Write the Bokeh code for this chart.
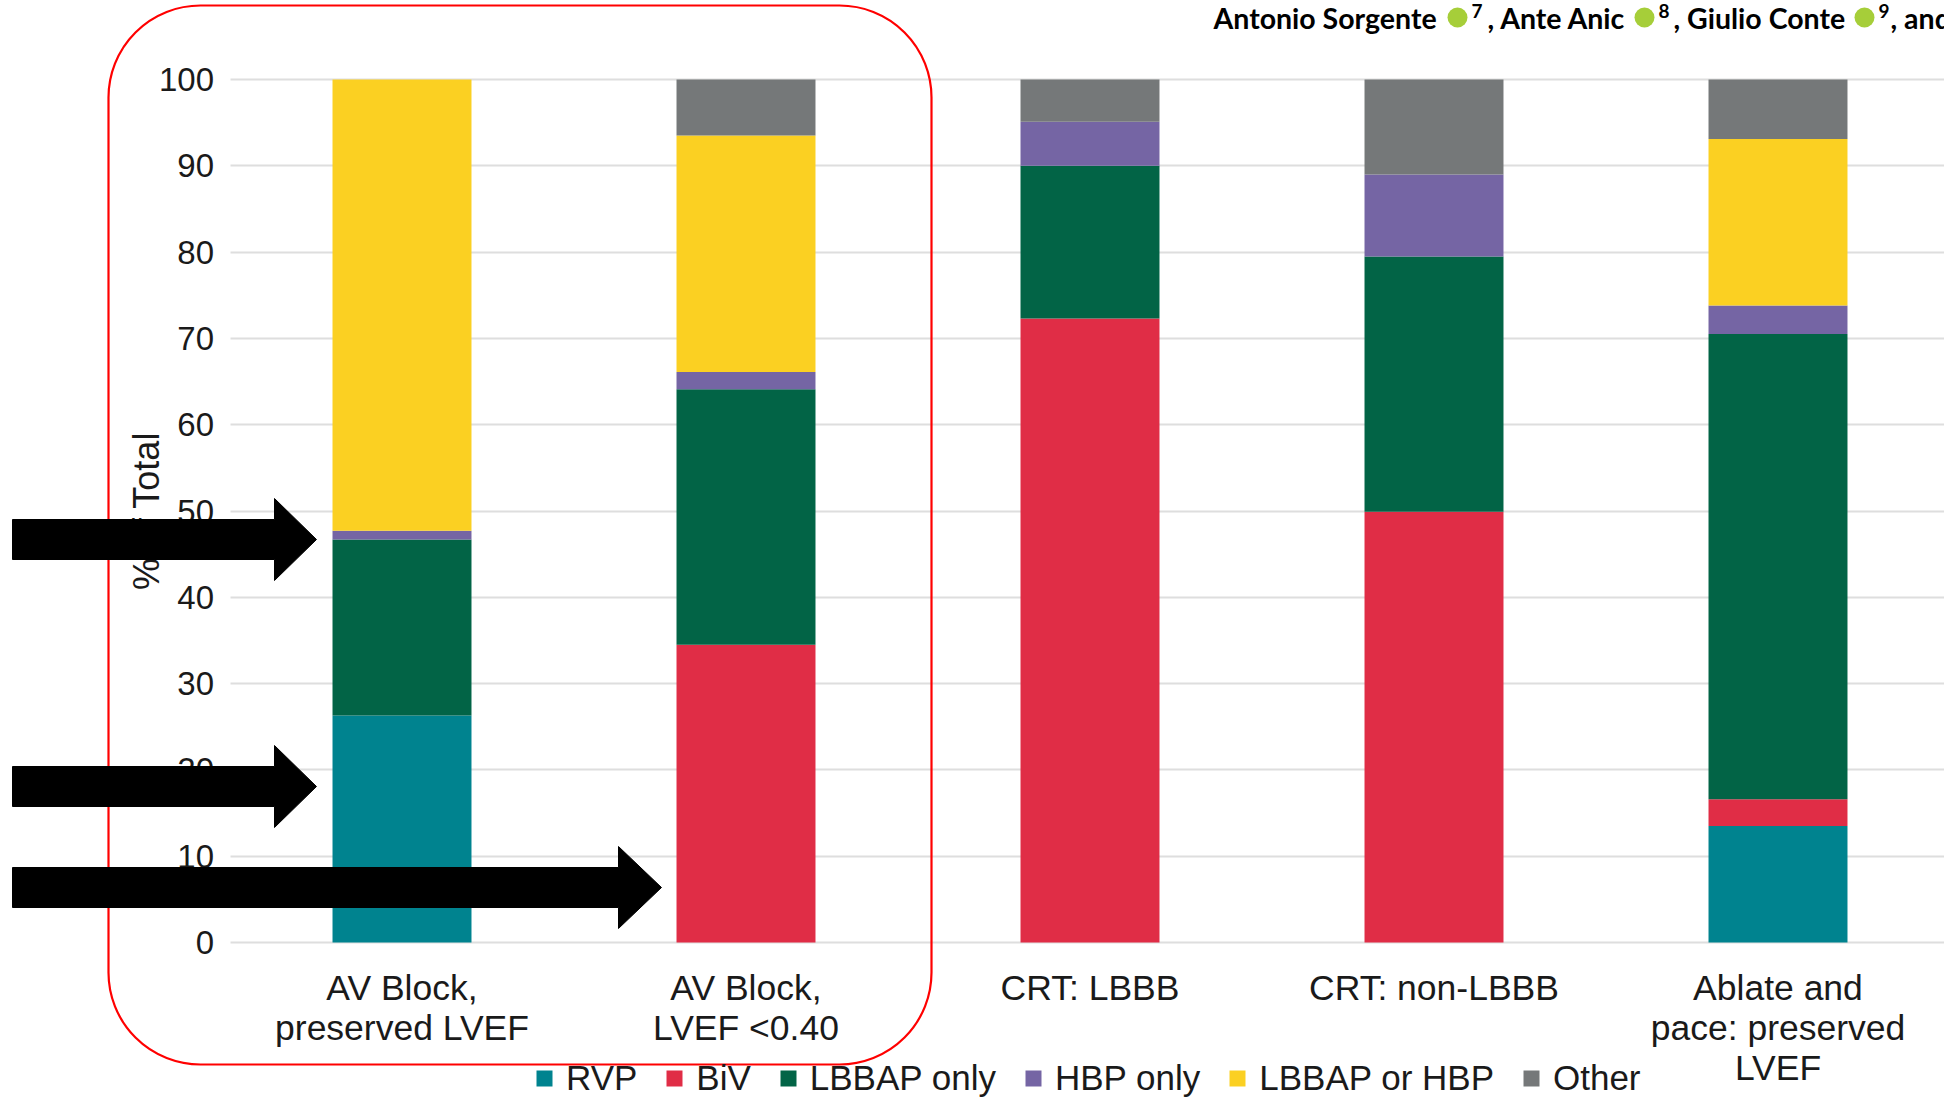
from bokeh.plotting import figure
from bokeh.models import (Range1d, FixedTicker, Legend, LegendItem, BoxAnnotation,
                          PolyAnnotation, Label, ColumnDataSource)
from bokeh.embed import file_html
from bokeh.resources import INLINE

# ---------------- data ----------------
categories = ["AV Block,\npreserved LVEF", "AV Block,\nLVEF <0.40", "CRT: LBBB",
              "CRT: non-LBBB", "Ablate and\npace: preserved\nLVEF"]
series = ["RVP", "BiV", "LBBAP only", "HBP only", "LBBAP or HBP", "Other"]
rvp = [26.3, 0.0, 0.0, 0.0, 13.5]
biv = [0.0, 34.5, 72.3, 49.9, 3.1]
lbbap_only = [20.4, 29.6, 17.7, 29.6, 53.9]
hbp_only = [1.0, 2.0, 5.1, 9.5, 3.3]
lbbap_or_hbp = [52.3, 27.4, 0.0, 0.0, 19.3]
other = [0.0, 6.5, 4.9, 11.0, 6.9]
y_ticks = [0, 10, 20, 30, 40, 50, 60, 70, 80, 90, 100]
colors = ["#00838f", "#e02d46", "#026446", "#7565a4", "#fbd022", "#757879"]
y_label = "% of Total"
header = [("Antonio Sorgente", "7"), (", Ante Anic", "8"), (", Giulio Conte", "9"), (", and", None)]

FONT = "Liberation Sans"
TXT = "#1a1a1a"

# ---------------- layout helpers (page pixels -> data) ----------------
W, H = 1944, 1098
X0_PX = 401.5       # page x of first category centre
CAT_W = 344.0       # px per category
Y0_PX = 942.0       # page y of value 0
PX_PER_UNIT = 8.63  # px per percent


def fx(px):
    return (px - X0_PX) / CAT_W


def fy(py):
    return (Y0_PX - py) / PX_PER_UNIT


x_pos = list(range(len(categories)))
data = dict(x=x_pos)
for name, vals in zip(series, [rvp, biv, lbbap_only, hbp_only, lbbap_or_hbp, other]):
    data[name] = vals
source = ColumnDataSource(data)

x_end = fx(W)
p = figure(width=W, height=H, output_backend="svg", toolbar_location=None,
           x_range=Range1d(fx(0), x_end), y_range=Range1d(fy(H), fy(0)),
           min_border_left=0, min_border_right=0, min_border_top=0, min_border_bottom=0)
p.outline_line_color = None
p.background_fill_color = "white"
p.border_fill_color = "white"

# grid lines only across the plotting area
p.xgrid.visible = False
yg = p.ygrid[0]
if "cross_bounds" in yg.properties():
    yg.cross_bounds = (-0.5, x_end)
    yg.bounds = (min(y_ticks), max(y_ticks))
    yg.grid_line_color = "#dedede"
    yg.grid_line_width = 2
else:
    yg.visible = False
    p.segment(x0=[-0.5] * len(y_ticks), x1=[x_end] * len(y_ticks), y0=y_ticks, y1=y_ticks,
              line_color="#dedede", line_width=2, level="underlay")

renderers = p.vbar_stack(series, x="x", width=0.404, source=source, color=colors,
                         line_color=None)

# axes drawn at fixed positions inside the canvas
p.xaxis.fixed_location = 0
p.xaxis.ticker = FixedTicker(ticks=x_pos)
p.xaxis.major_label_overrides = {i: c for i, c in zip(x_pos, categories)}
p.xaxis.axis_line_color = None
p.xaxis.major_tick_line_color = None
p.xaxis.minor_tick_line_color = None
p.xaxis.major_tick_out = 0
p.xaxis.major_tick_in = 0
p.xaxis.major_label_standoff = 25
p.xaxis.major_label_text_font = FONT
p.xaxis.major_label_text_font_size = "35.5px"
p.xaxis.major_label_text_color = TXT
p.xaxis.major_label_text_line_height = 1.01

p.yaxis.fixed_location = -0.5
p.yaxis.bounds = (0, 100)
p.yaxis.ticker = FixedTicker(ticks=y_ticks)
p.yaxis.axis_line_color = None
p.yaxis.major_tick_line_color = None
p.yaxis.minor_tick_line_color = None
p.yaxis.major_tick_out = 0
p.yaxis.major_tick_in = 0
p.yaxis.major_label_standoff = 16
p.yaxis.major_label_text_font = FONT
p.yaxis.major_label_text_font_size = "33px"
p.yaxis.major_label_text_color = TXT
p.yaxis.axis_label = y_label
p.yaxis.axis_label_text_font = FONT
p.yaxis.axis_label_text_font_size = "36px"
p.yaxis.axis_label_text_font_style = "normal"
p.yaxis.axis_label_text_color = TXT
p.yaxis.axis_label_standoff = -11

# legend
legend = Legend(items=[LegendItem(label=s, renderers=[r]) for s, r in zip(series, renderers)],
                orientation="horizontal", location=(534, 0),
                glyph_width=20, glyph_height=20, label_standoff=12, spacing=27,
                padding=0, margin=0, label_height=38,
                label_text_font=FONT, label_text_font_size="35px",
                label_text_color=TXT,
                border_line_color=None, background_fill_alpha=0)
p.add_layout(legend)

# red rounded frame
p.add_layout(BoxAnnotation(left=fx(108), right=fx(931), top=fy(5), bottom=fy(1064),
                           fill_alpha=0, line_color="#ff0000", line_alpha=1, line_width=2.2,
                           border_radius=92, level="overlay"))

# black block arrows (centre y on page, head base x, tip x)
arrows = [(539, 274, 316), (786, 274, 316), (887, 618, 661)]
for cy, bx, tx in arrows:
    pts = [(12, cy - 20), (bx, cy - 20), (bx, cy - 41), (tx, cy), (bx, cy + 41),
           (bx, cy + 20), (12, cy + 20)]
    p.add_layout(PolyAnnotation(xs=[fx(a) for a, b in pts], ys=[fy(b) for a, b in pts],
                                fill_color="black", fill_alpha=1, line_color="black",
                                line_alpha=1, line_width=1, level="overlay"))

# header text (author line, cropped at the top right)
text_x = [1213, 1487, 1673, 1890]
icon_x = [1457, 1644, 1864]
sup_x = [1471, 1658, 1878]
HY = 17
for (txt, sup), tx in zip(header, text_x):
    p.add_layout(Label(x=fx(tx), y=fy(HY), text=txt, text_font="Lato", text_font_style="bold",
                       text_font_size="28.5px", text_baseline="middle", text_align="left",
                       text_color="#000000"))
for (txt, sup), ix, sx in zip(header, icon_x, sup_x):
    if sup is None:
        continue
    r = 10
    p.add_layout(BoxAnnotation(left=fx(ix - r), right=fx(ix + r), top=fy(HY - r), bottom=fy(HY + r),
                               fill_color="#a6ce39", fill_alpha=1, line_color=None,
                               border_radius=10, level="overlay"))
    p.add_layout(Label(x=fx(ix), y=fy(HY), text="iD", text_font=FONT, text_font_style="bold",
                       text_font_size="10px", text_baseline="middle", text_align="center",
                       text_color="white"))
    p.add_layout(Label(x=fx(sx), y=fy(HY - 7), text=sup, text_font="Lato", text_font_style="bold",
                       text_font_size="19px", text_baseline="middle", text_align="left",
                       text_color="#000000"))

open("out.html", "w").write(file_html(p, INLINE))
